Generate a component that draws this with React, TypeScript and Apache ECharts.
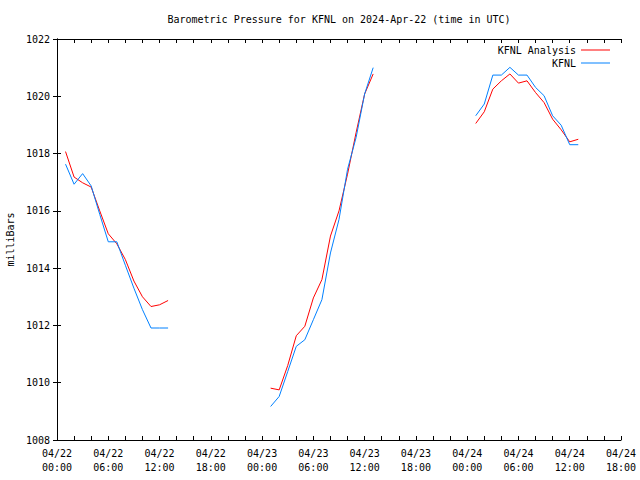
import React, { useEffect, useRef } from "react";
import * as echarts from "echarts";

// hours since 2024-04-22 00:00 UTC
const hours1 = [1, 2, 3, 4, 5, 6, 7, 8, 9, 10, 11, 12, 13];
const hours2 = [25, 26, 27, 28, 29, 30, 31, 32, 33, 34, 35, 36, 37];
const hours3 = [49, 50, 51, 52, 53, 54, 55, 56, 57, 58, 59, 60, 61];

const analysis1 = [1018.07, 1017.18, 1016.98, 1016.83, 1016.0, 1015.2, 1014.85, 1014.3, 1013.55, 1013.0, 1012.66, 1012.72, 1012.87];
const analysis2 = [1009.81, 1009.75, 1010.6, 1011.64, 1011.97, 1012.96, 1013.6, 1015.12, 1016.0, 1017.28, 1018.73, 1020.08, 1020.78];
const analysis3 = [1019.05, 1019.46, 1020.25, 1020.54, 1020.78, 1020.46, 1020.54, 1020.13, 1019.78, 1019.2, 1018.83, 1018.41, 1018.5];

const obs1 = [1017.63, 1016.93, 1017.3, 1016.87, 1015.88, 1014.92, 1014.92, 1014.1, 1013.3, 1012.55, 1011.91, 1011.91, 1011.91];
const obs2 = [1009.17, 1009.52, 1010.39, 1011.27, 1011.5, 1012.2, 1012.9, 1014.53, 1015.7, 1017.45, 1018.56, 1020.08, 1021.0];
const obs3 = [1019.32, 1019.73, 1020.74, 1020.74, 1021.01, 1020.74, 1020.74, 1020.31, 1020.02, 1019.32, 1018.99, 1018.31, 1018.31];

const seriesNames = ["KFNL Analysis", "KFNL"];
const seriesColors = ["#ff0000", "#0080ff"];

const FONT = "'DejaVu Sans Mono', 'Liberation Mono', monospace";

function buildData(segments: { h: number[]; v: number[] }[]) {
  const out: any[] = [];
  segments.forEach((s, si) => {
    if (si > 0) out.push([s.h[0] - 0.5, "-"]);
    s.h.forEach((h, i) => out.push([h, s.v[i]]));
  });
  return out;
}

function fmtHour(v: number) {
  const day = 22 + Math.floor(v / 24);
  const hh = v % 24;
  return "04/" + day + "\n" + (hh < 10 ? "0" + hh : "" + hh) + ":00";
}

export default function App() {
  const ref = useRef<HTMLDivElement>(null);
  useEffect(() => {
    if (!ref.current) return;
    const chart = echarts.init(ref.current, undefined, { renderer: "svg" });
    const axisLine = { show: true, lineStyle: { color: "#000", width: 1 } };
    const tick = { show: true, inside: true, length: 4, lineStyle: { color: "#000" } };
    const minor = { show: true, splitNumber: 3, length: 4, lineStyle: { color: "#000" } };
    const xBase = {
      type: "value" as const,
      min: 0,
      max: 66,
      interval: 6,
      axisLine,
      axisTick: tick,
      minorTick: minor,
      splitLine: { show: false },
    };
    const yBase = {
      type: "value" as const,
      min: 1008,
      max: 1022,
      interval: 2,
      axisLine,
      axisTick: tick,
      splitLine: { show: false },
    };
    chart.setOption({
      animation: false,
      backgroundColor: "#fff",
      title: {
        text: "Barometric Pressure for KFNL on 2024-Apr-22 (time in UTC)",
        left: 339,
        top: 14,
        textAlign: "center",
        padding: 0,
        textStyle: { fontFamily: FONT, fontSize: 10, fontWeight: "normal", color: "#000" },
      },
      legend: {
        data: seriesNames,
        orient: "vertical",
        align: "right",
        right: 30,
        top: 44,
        padding: 0,
        itemGap: 1,
        itemWidth: 29,
        itemHeight: 1,
        icon: "rect",
        textStyle: { fontFamily: FONT, fontSize: 10, color: "#000", lineHeight: 12 },
      },
      grid: { left: 57, right: 19, top: 39, bottom: 40, outerBoundsMode: "none", containLabel: false },
      xAxis: [
        {
          ...xBase,
          position: "bottom",
          axisLabel: {
            formatter: fmtHour,
            fontFamily: FONT,
            fontSize: 10,
            color: "#000",
            lineHeight: 14,
            margin: 6,
          },
        },
        { ...xBase, position: "top", axisLabel: { show: false } },
      ],
      yAxis: [
        {
          ...yBase,
          position: "left",
          name: "milliBars",
          nameLocation: "middle",
          nameRotate: 90,
          nameGap: 42,
          nameTextStyle: { fontFamily: FONT, fontSize: 10, color: "#000" },
          axisLabel: {
            formatter: (v: number) => String(v),
            fontFamily: FONT,
            fontSize: 10,
            color: "#000",
            margin: 7,
          },
        },
        { ...yBase, position: "right", axisLabel: { show: false } },
      ],
      series: [
        {
          name: seriesNames[0],
          type: "line",
          symbol: "none",
          connectNulls: false,
          color: seriesColors[0],
          lineStyle: { width: 1, color: seriesColors[0] },
          data: buildData([
            { h: hours1, v: analysis1 },
            { h: hours2, v: analysis2 },
            { h: hours3, v: analysis3 },
          ]),
        },
        {
          name: seriesNames[1],
          type: "line",
          symbol: "none",
          connectNulls: false,
          color: seriesColors[1],
          lineStyle: { width: 1, color: seriesColors[1] },
          data: buildData([
            { h: hours1, v: obs1 },
            { h: hours2, v: obs2 },
            { h: hours3, v: obs3 },
          ]),
        },
      ],
    });
    return () => chart.dispose();
  }, []);
  return (
    <div
      ref={ref}
      style={{ position: "fixed", left: 0, top: 0, width: 640, height: 480, background: "#fff" }}
    />
  );
}
